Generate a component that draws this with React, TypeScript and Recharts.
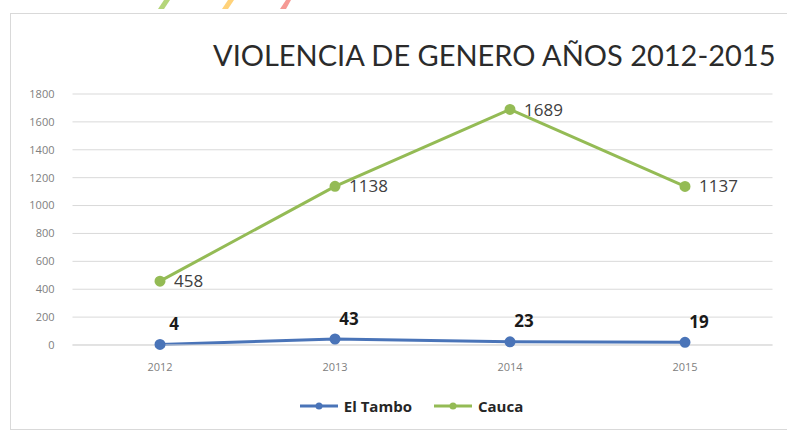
import { LineChart, Line, XAxis, YAxis, CartesianGrid, Legend, LabelList } from "recharts";

const years = ["2012", "2013", "2014", "2015"];
const elTambo = [4, 43, 23, 19];
const cauca = [458, 1138, 1689, 1137];
const yTicks = [0, 200, 400, 600, 800, 1000, 1200, 1400, 1600, 1800];

const data = years.map((year, i) => ({ year, elTambo: elTambo[i], cauca: cauca[i] }));

const BLUE = "#4a74b8";
const GREEN = "#94bb55";

function TamboLabel(props: any) {
  const { x, y, value } = props;
  return (
    <text x={x + 14} y={y - 21} textAnchor="middle" dominantBaseline="central" fontSize={17} fontWeight={700} fill="#1a1a1a">
      {value}
    </text>
  );
}

function LegendContent() {
  const items = [
    { name: "El Tambo", color: BLUE },
    { name: "Cauca", color: GREEN },
  ];
  return (
    <div style={{ display: "flex", justifyContent: "center", gap: 20, paddingLeft: 36 }}>
      {items.map((it) => (
        <div key={it.name} style={{ display: "flex", alignItems: "center" }}>
          <svg width={42} height={14}>
            <line x1={2} y1={7} x2={40} y2={7} stroke={it.color} strokeWidth={3} />
            <circle cx={21} cy={7} r={3.5} fill={it.color} />
          </svg>
          <span style={{ fontSize: 15, fontWeight: 700, color: "#262626", marginLeft: 4 }}>{it.name}</span>
        </div>
      ))}
    </div>
  );
}

export default function App() {
  return (
    <div style={{ position: "absolute", left: 0, top: 0, width: 787, height: 432, background: "#fff", fontFamily: "'Open Sans', sans-serif", overflow: "hidden" }}>
      <svg width={787} height={20} style={{ position: "absolute", left: 0, top: 0 }}>
        <polygon points="164,0 170,0 164,9 158,9" fill="#b5d67a" />
        <polygon points="228,0 234,0 228,9 222,9" fill="#ffd27a" />
        <polygon points="286,0 291,0 286,9 280,9" fill="#f59a95" />
      </svg>
      <div style={{ position: "absolute", left: 10, top: 13, width: 800, height: 417, border: "1px solid #d9d9d9", boxSizing: "border-box" }} />
      <div
        style={{
          position: "absolute",
          left: 213,
          top: 39,
          fontFamily: "Lato, sans-serif",
          fontSize: 29,
          lineHeight: "32px",
          color: "#2b2b2b",
          whiteSpace: "nowrap",
        }}
      >
        VIOLENCIA DE GENERO AÑOS 2012-2015
      </div>
      <div style={{ position: "absolute", left: 0, top: 0 }}>
        <LineChart width={787} height={432} data={data} margin={{ top: 94, right: 14.5, left: 12.5, bottom: 12 }}>
          <CartesianGrid vertical={false} stroke="#d9d9d9" />
          <XAxis
            dataKey="year"
            padding={{ left: 87.5, right: 87.5 }}
            tick={{ fontSize: 11, fill: "#808080" }}
            tickLine={false}
            axisLine={{ stroke: "#d9d9d9" }}
            tickMargin={12}
            height={51}
          />
          <YAxis
            ticks={yTicks}
            domain={[0, 1800]}
            tick={{ fontSize: 11, fill: "#808080" }}
            tickLine={false}
            axisLine={false}
            tickMargin={12}
            width={60}
          />
          <Legend verticalAlign="bottom" height={24} content={<LegendContent />} />
          <Line
            dataKey="elTambo"
            name="El Tambo"
            stroke={BLUE}
            strokeWidth={3}
            dot={{ r: 4, fill: BLUE, stroke: BLUE }}
            isAnimationActive={false}
          >
            <LabelList dataKey="elTambo" content={<TamboLabel />} />
          </Line>
          <Line
            dataKey="cauca"
            name="Cauca"
            stroke={GREEN}
            strokeWidth={3}
            dot={{ r: 4, fill: GREEN, stroke: GREEN }}
            isAnimationActive={false}
          >
            <LabelList dataKey="cauca" position="right" offset={14} fontSize={17} fill="#404040" />
          </Line>
        </LineChart>
      </div>
    </div>
  );
}
